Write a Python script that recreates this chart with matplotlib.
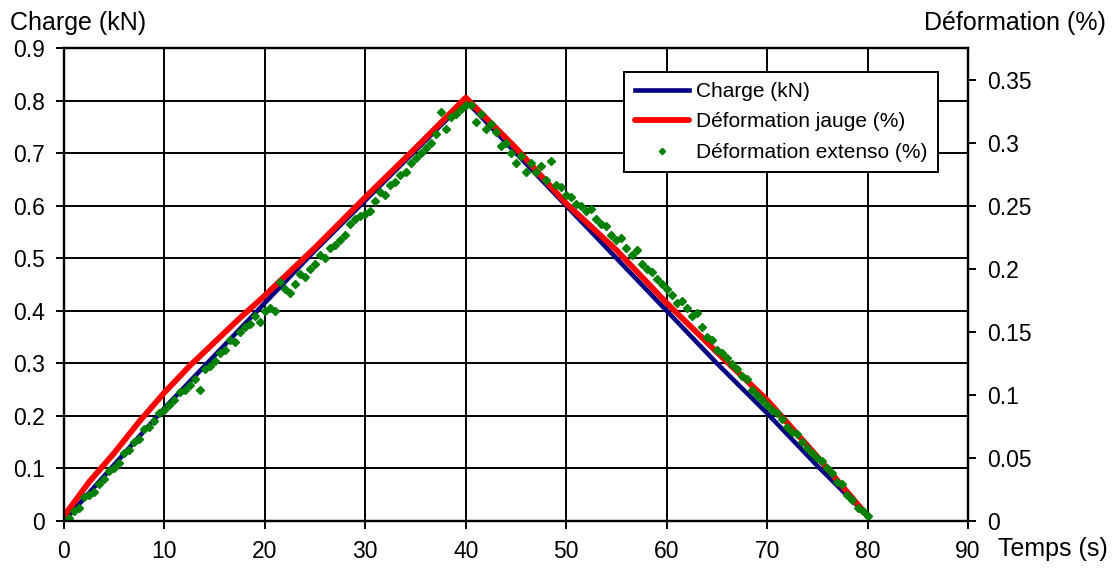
import numpy as np
import matplotlib
matplotlib.use("Agg")
import matplotlib.pyplot as plt

plt.rcParams['font.family'] = ['Liberation Sans', 'DejaVu Sans']

# Charge (kN) - left axis
t_charge = [0, 5, 10, 15, 20, 25, 30, 35, 40, 45, 50, 55, 60, 65, 70, 75, 80]
charge = [0.0, 0.107, 0.215, 0.315, 0.415, 0.515, 0.61, 0.705, 0.8,
          0.7, 0.6, 0.5, 0.4, 0.3, 0.205, 0.105, 0.01]

# Deformation jauge (%) - right axis
t_jauge = [0, 2.5, 5, 7.5, 10, 12.5, 15, 17.5, 20, 25, 30, 35, 40,
           45, 50, 55, 60, 65, 70, 75, 80]
jauge = [0.004, 0.031, 0.054, 0.079, 0.102, 0.123, 0.142, 0.161, 0.179,
         0.217, 0.257, 0.296, 0.336,
         0.296, 0.252, 0.215, 0.173, 0.134, 0.096, 0.051, 0.004]

# Deformation extenso (%) - right axis, one reading every 0.5 s
t_extenso = np.arange(0, 80.5, 0.5)
extenso = [
    0.000, 0.002, 0.008, 0.010, 0.019, 0.021, 0.023, 0.029, 0.033, 0.040,
    0.042, 0.046, 0.054, 0.056, 0.063, 0.065, 0.073, 0.075, 0.079, 0.086,
    0.088, 0.092, 0.096, 0.102, 0.104, 0.108, 0.113, 0.104, 0.121, 0.123,
    0.127, 0.133, 0.136, 0.144, 0.142, 0.150, 0.154, 0.156, 0.163, 0.158,
    0.167, 0.169, 0.167, 0.190, 0.184, 0.181, 0.188, 0.196, 0.194, 0.200,
    0.204, 0.211, 0.209, 0.217, 0.219, 0.223, 0.227, 0.236, 0.240, 0.242,
    0.244, 0.246, 0.254, 0.261, 0.259, 0.267, 0.269, 0.275, 0.277, 0.284,
    0.288, 0.292, 0.296, 0.300, 0.307, 0.325, 0.311, 0.321, 0.323, 0.327,
    0.330, 0.330, 0.317, 0.323, 0.311, 0.315, 0.309, 0.298, 0.300, 0.292,
    0.284, 0.290, 0.277, 0.284, 0.277, 0.282, 0.271, 0.286, 0.267, 0.265,
    0.259, 0.257, 0.252, 0.250, 0.246, 0.248, 0.240, 0.236, 0.234, 0.227,
    0.223, 0.225, 0.217, 0.211, 0.215, 0.204, 0.200, 0.198, 0.192, 0.188,
    0.184, 0.179, 0.173, 0.175, 0.169, 0.163, 0.165, 0.154, 0.146, 0.144,
    0.136, 0.133, 0.129, 0.125, 0.121, 0.115, 0.113, 0.104, 0.100, 0.096,
    0.092, 0.088, 0.086, 0.081, 0.075, 0.071, 0.069, 0.063, 0.058, 0.054,
    0.050, 0.048, 0.042, 0.038, 0.031, 0.029, 0.021, 0.017, 0.010, 0.008,
    0.004,
]

x_ticks = np.arange(0, 100, 10)
left_ticks = [0, 0.1, 0.2, 0.3, 0.4, 0.5, 0.6, 0.7, 0.8, 0.9]
right_ticks = [0, 0.05, 0.1, 0.15, 0.2, 0.25, 0.3, 0.35]
right_tick_labels = ['0', '0.05', '0.1', '0.15', '0.2', '0.25', '0.3', '0.35']

fig = plt.figure(figsize=(11.16, 5.74), dpi=100)
ax = fig.add_axes([64 / 1116, 1 - 521 / 574, 904 / 1116, 473 / 574])
ax2 = ax.twinx()

l1, = ax.plot(t_charge, charge, color='#000080', lw=3.3, label='Charge (kN)')
l2, = ax2.plot(t_jauge, jauge, color='#ff0000', lw=4.2,
               label='Déformation jauge (%)', solid_capstyle='round')
l3, = ax2.plot(t_extenso, extenso, ls='none', marker='D', ms=4.0,
               color='#008000', label='Déformation extenso (%)')

ax.set_xlim(0, 90)
ax.set_ylim(0, 0.9)
ax2.set_ylim(0, 0.9 * 525.6 / 1260)
ax.set_xticks(x_ticks)
ax.set_yticks(left_ticks)
ax.set_yticklabels([('%g' % v) for v in left_ticks])
ax2.set_yticks(right_ticks)
ax2.set_yticklabels(right_tick_labels)

ax.grid(True, color='black', lw=1.4)
ax.set_axisbelow(True)
for a in (ax, ax2):
    for s in a.spines.values():
        s.set_linewidth(1.6)
        s.set_color('black')
    a.tick_params(labelsize=16.5, length=6, width=1.4, direction='out', pad=8)

fig.text(10 / 1116, 1 - 23 / 574, 'Charge (kN)', fontsize=18, va='center', ha='left')
fig.text(1106 / 1116, 1 - 23 / 574, 'Déformation (%)', fontsize=18, va='center', ha='right')
fig.text(1108 / 1116, 1 - 549 / 574, 'Temps (s)', fontsize=18, va='center', ha='right')

leg = ax2.legend(handles=[l1, l2, l3], loc='center',
                 bbox_to_anchor=(781 / 1116, 1 - 122 / 574),
                 bbox_transform=fig.transFigure, borderaxespad=0,
                 fontsize=15, handlelength=2.6, handletextpad=0.35,
                 labelspacing=0.55, borderpad=0.5, fancybox=False,
                 framealpha=1, edgecolor='black', markerscale=0.8)
leg.get_frame().set_linewidth(1.4)

fig.savefig('out.png', dpi=100)
